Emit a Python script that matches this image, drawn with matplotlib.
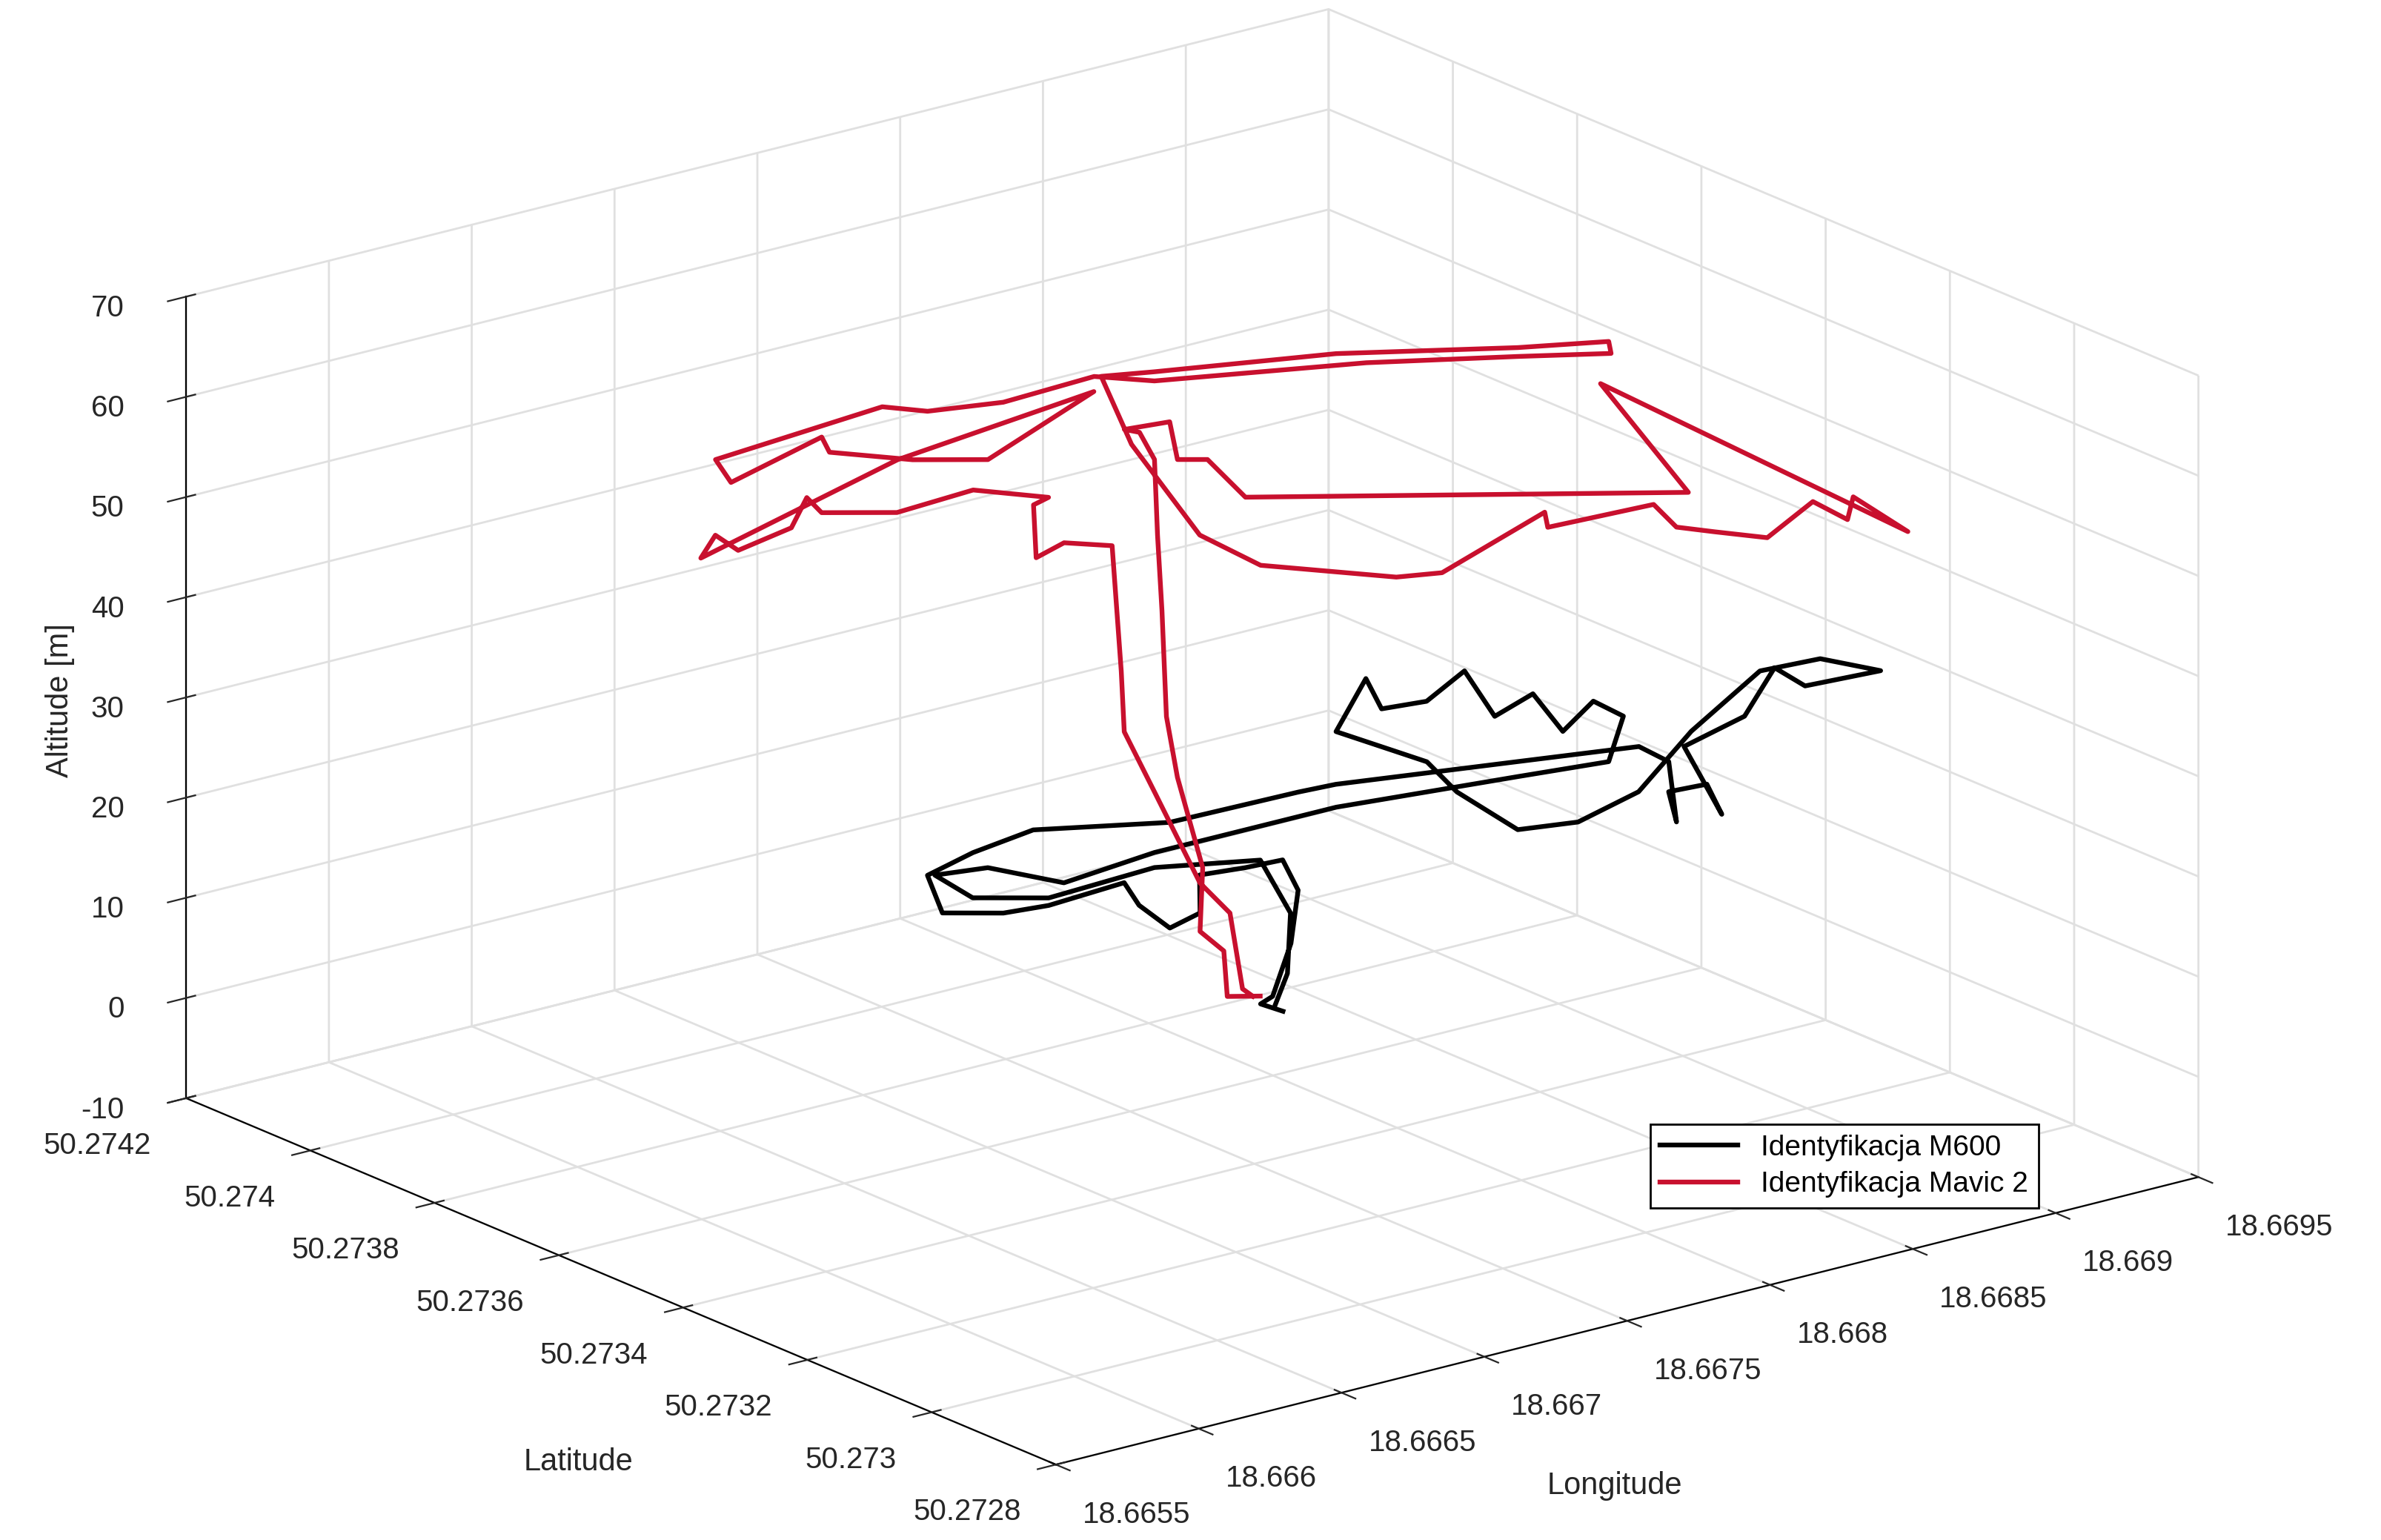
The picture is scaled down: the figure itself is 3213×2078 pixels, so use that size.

import matplotlib
matplotlib.use("Agg")
import matplotlib.pyplot as plt
from matplotlib.ticker import FormatStrFormatter, MultipleLocator

# Identyfikacja Mavic 2
mavic_lon = [18.667864,18.667790,18.667915,18.667860,18.667989,18.667883,18.667862,18.667829,18.667796,18.667818,18.667822,18.667804,18.667943,18.667868,18.667934,18.667821,18.668817,18.669086,18.669094,18.669155,18.669024,18.669042,18.668754,18.668669,18.668610,18.668678,18.668327,18.668399,18.667859,18.667736,18.667500,18.667524,18.667742,18.667925,18.668065,18.668558,18.668988,18.669219,18.669162,18.668941,18.668577,18.668018,18.667909,18.667628,18.667415,18.667339,18.666751,18.666666,18.667101,18.667039,18.667182,18.667348,18.667882,18.667253,18.666519,18.666670,18.666641,18.666823,18.667014,18.666968,18.667134,18.667418,18.667545,18.667525,18.667308,18.667447,18.667537,18.667582,18.667586,18.667651,18.667799,18.667917,18.667863,18.667847]
mavic_lat = [50.273558,50.273577,50.273640,50.273653,50.273708,50.273700,50.273708,50.273700,50.273692,50.273707,50.273733,50.273749,50.273740,50.273693,50.273675,50.273562,50.273307,50.273572,50.273081,50.273197,50.273146,50.273210,50.273151,50.273197,50.273231,50.273299,50.273308,50.273346,50.273263,50.273280,50.273390,50.273499,50.273709,50.273842,50.273821,50.273755,50.273660,50.273620,50.273590,50.273639,50.273715,50.273799,50.273846,50.273863,50.273887,50.273925,50.273923,50.273859,50.273913,50.273872,50.273804,50.273759,50.273834,50.273861,50.273840,50.273886,50.273836,50.273834,50.273897,50.273852,50.273807,50.273815,50.273752,50.273767,50.273663,50.273682,50.273646,50.273652,50.273649,50.273630,50.273625,50.273631,50.273586,50.273562]
mavic_alt = [0,0,2,4,8,18,24,35,43,50,52,52,52,50,50,50,50,52,50,50,50,50,50,50,50,50,50,50,50,50,50,50,52,54,54,54,54,54,54,54,54,54,54,53,53,53,52,52,52,52,52,52,53,50,46,46,46,47,47,47,47,47,47,46,45,45,45,32,26,20,10,6,0,0]

# Identyfikacja M600
m600_lon = [18.667835,18.667824,18.667838,18.667789,18.667664,18.667475,18.667249,18.667110,18.666914,18.666769,18.666820,18.666905,18.666621,18.666482,18.666349,18.666512,18.666678,18.666928,18.667214,18.667654,18.667776,18.668240,18.668533,18.668520,18.668223,18.668363,18.668486,18.668362,18.668580,18.668818,18.669084,18.669056,18.669301,18.669231,18.669035,18.668675,18.668297,18.668059,18.667887,18.667950,18.668041,18.667999,18.668184,18.668165,18.668303,18.668440,18.668374,18.668523,18.668445,18.668617,18.668657,18.668388,18.668162,18.667658,18.667076,18.666720,18.666632,18.666477,18.666442,18.666608,18.667050,18.667425,18.667633,18.667781,18.667857]
m600_lat = [50.273508,50.273539,50.273526,50.273474,50.273405,50.273343,50.273299,50.273309,50.273218,50.273200,50.273273,50.273336,50.273327,50.273336,50.273373,50.273472,50.273475,50.273493,50.273405,50.273400,50.273396,50.273317,50.273256,50.273202,50.273053,50.273130,50.273125,50.273044,50.273205,50.273217,50.273291,50.273229,50.273220,50.273285,50.273292,50.273237,50.273148,50.273136,50.273154,50.273281,50.273371,50.273498,50.273535,50.273501,50.273492,50.273494,50.273415,50.273422,50.273338,50.273368,50.273338,50.273238,50.273281,50.273341,50.273366,50.273348,50.273430,50.273444,50.273367,50.273321,50.273354,50.273356,50.273403,50.273476,50.273530]
m600_alt = [0,0,1,8,16,22,24,24,24,24,24,24,24,24,24,24,25,25,26,26,26,27,28,28,28,28,28,28,29,30,31,31,31,31,31,29,28,27,27,27,27,27,30,28,28,30,28,29,28,29,28,28,27,26,25,25,25,25,25,25,24,22,14,5,0]

plt.rcParams['font.family'] = ['Liberation Sans', 'DejaVu Sans']
fig = plt.figure(figsize=(16.065, 10.39), dpi=200)
ax = fig.add_subplot(projection='3d', proj_type='ortho')
ax.set_position([-0.008, 0.008, 1.0, 1.0])
ax.view_init(elev=19, azim=-127.7)
ax.set_box_aspect((1, 0.985, 0.587), zoom=1.385)

ax.plot(m600_lon, m600_lat, m600_alt, color='black', lw=2.3, label='Identyfikacja M600')
ax.plot(mavic_lon, mavic_lat, mavic_alt, color='#C8102E', lw=2.3, label='Identyfikacja Mavic 2')

ax.set_xlim(18.6655, 18.6695)
ax.set_ylim(50.2728, 50.2742)
ax.set_zlim(-10, 70)
ax.xaxis.set_major_locator(MultipleLocator(0.0005))
ax.yaxis.set_major_locator(MultipleLocator(0.0002))
ax.zaxis.set_major_locator(MultipleLocator(10))
for a in (ax.xaxis, ax.yaxis, ax.zaxis):
    a.set_major_formatter(FormatStrFormatter('%g'))
    a.set_pane_color((1, 1, 1, 0))
    a._axinfo['grid'].update(color='#e0e0e0', linewidth=1.0)
    a._axinfo['axisline']['color'] = '#262626'
    a._axinfo['tick']['color'] = '#262626'
ax.tick_params(labelsize=14.5, colors='#262626', pad=4)
ax.zaxis.set_ticks_position('upper')

# align tick labels like the reference
for lab in ax.yaxis.get_ticklabels():
    lab.set_ha('right')
for lab in ax.zaxis.get_ticklabels():
    lab.set_ha('right')
for lab in ax.xaxis.get_ticklabels():
    lab.set_ha('left')

fig.text(0.243, 0.045, 'Latitude', fontsize=15, ha='center', color='#262626')
fig.text(0.678, 0.03, 'Longitude', fontsize=15, ha='center', color='#262626')
fig.text(0.019, 0.545, 'Altitude [m]', fontsize=15, rotation=90, va='center', color='#262626')

fig.legend(loc='upper left', bbox_to_anchor=(0.693, 0.27), fontsize=14, frameon=True,
           fancybox=False, edgecolor='black', framealpha=1, borderaxespad=0,
           handlelength=2.7, borderpad=0.35, labelspacing=0.35)
fig.savefig('out.png', dpi=200)
